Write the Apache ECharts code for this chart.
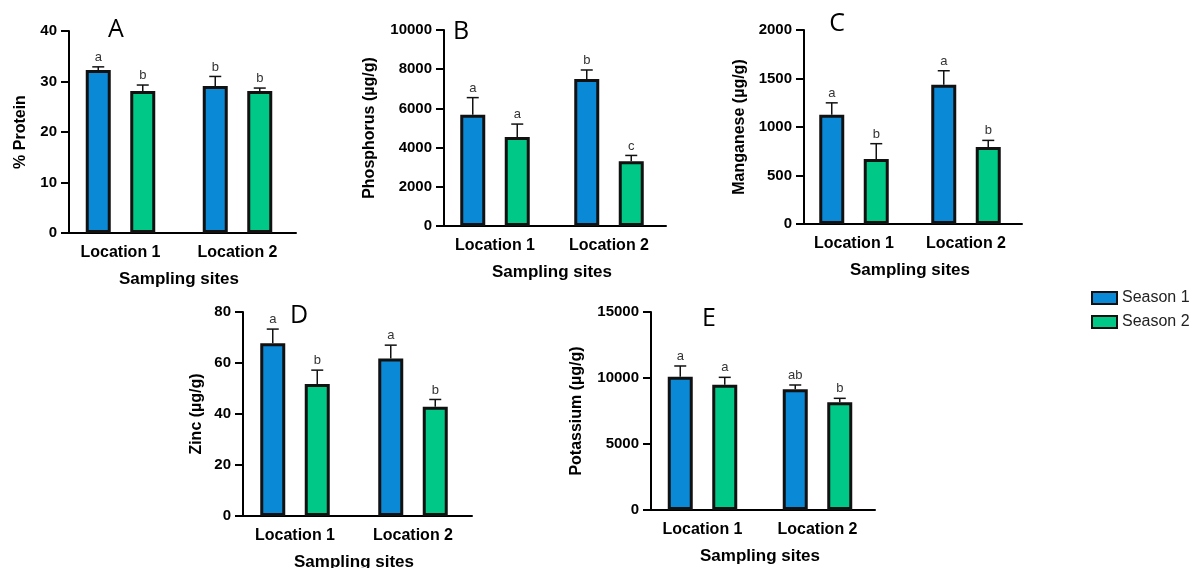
<!DOCTYPE html>
<html>
<head>
<meta charset="utf-8">
<script src="https://cdn.jsdelivr.net/npm/echarts@6/dist/echarts.min.js"></script>
<style>
  html, body { margin: 0; padding: 0; background: #fff; }
  #chart { width: 1199px; height: 568px; }
</style>
</head>
<body>
<div id="chart"></div>
<script>
// Sampling sites and seasons
const sites = ['Location 1', 'Location 2'];
const seasons = ['Season 1', 'Season 2'];

// A - % Protein
const proteinS1 = [32.3, 29.1];
const proteinS2 = [28.1, 28.1];
const proteinErrS1 = [0.6, 1.9];
const proteinErrS2 = [1.2, 0.6];
const proteinLetS1 = ['a', 'b'];
const proteinLetS2 = ['b', 'b'];

// B - Phosphorus
const phosS1 = [5680, 7500];
const phosS2 = [4540, 3300];
const phosErrS1 = [870, 460];
const phosErrS2 = [660, 300];
const phosLetS1 = ['a', 'b'];
const phosLetS2 = ['a', 'c'];

// C - Manganese
const mnS1 = [1127, 1436];
const mnS2 = [670, 794];
const mnErrS1 = [122, 144];
const mnErrS2 = [158, 68];
const mnLetS1 = ['a', 'a'];
const mnLetS2 = ['b', 'b'];

// D - Zinc
const znS1 = [67.7, 61.8];
const znS2 = [51.8, 42.8];
const znErrS1 = [5.6, 5.2];
const znErrS2 = [5.4, 2.9];
const znLetS1 = ['a', 'a'];
const znLetS2 = ['b', 'b'];

// E - Potassium
const kS1 = [10100, 9140];
const kS2 = [9490, 8160];
const kErrS1 = [810, 330];
const kErrS2 = [560, 300];
const kLetS1 = ['a', 'ab'];
const kLetS2 = ['a', 'b'];

const BLUE = '#0A89D7';
const GREEN = '#00C886';
const FONT = '"Liberation Sans", Arial, sans-serif';
const BAR_W = 25;
const BAR_GAP = 0.78;
const SHIFT = BAR_W * (1 + BAR_GAP) / 2;

// panel layout: grid box + y axis pos (x0) + y axis settings
const panels = [
  { tag: 'A', name: '% Protein', s1: proteinS1, s2: proteinS2, e1: proteinErrS1, e2: proteinErrS2, l1: proteinLetS1, l2: proteinLetS2,
    max: 40, interval: 10, x0: 69, left: 62, width: 234, top: 31, height: 202, nameGap: 40, tagPos: [116, 30] },
  { tag: 'B', name: 'Phosphorus (µg/g)', s1: phosS1, s2: phosS2, e1: phosErrS1, e2: phosErrS2, l1: phosLetS1, l2: phosLetS2,
    max: 10000, interval: 2000, x0: 444, left: 438, width: 228, top: 30, height: 196, nameGap: 66, tagPos: [461, 32] },
  { tag: 'C', name: 'Manganese (µg/g)', s1: mnS1, s2: mnS2, e1: mnErrS1, e2: mnErrS2, l1: mnLetS1, l2: mnLetS2,
    max: 2000, interval: 500, x0: 804, left: 798, width: 224, top: 30, height: 194, nameGap: 56, tagPos: [837, 24] },
  { tag: 'D', name: 'Zinc (µg/g)', s1: znS1, s2: znS2, e1: znErrS1, e2: znErrS2, l1: znLetS1, l2: znLetS2,
    max: 80, interval: 20, x0: 243, left: 236, width: 236, top: 312, height: 204, nameGap: 38, tagPos: [299, 316] },
  { tag: 'E', name: 'Potassium (µg/g)', s1: kS1, s2: kS2, e1: kErrS1, e2: kErrS2, l1: kLetS1, l2: kLetS2,
    max: 15000, interval: 5000, x0: 651, left: 645, width: 230, top: 312, height: 198, nameGap: 66, tagPos: [709, 319] }
];

function errorBarRender(shift, letters) {
  return function (params, api) {
    const cat = api.value(0);
    const mean = api.value(1);
    const err = api.value(2);
    const letter = letters[params.dataIndex];
    const base = api.coord([cat, mean]);
    const tip = api.coord([cat, mean + err]);
    const x = base[0] + shift;
    return {
      type: 'group',
      children: [
        { type: 'line', shape: { x1: x, y1: base[1], x2: x, y2: tip[1] }, style: { stroke: '#111', lineWidth: 1.5 } },
        { type: 'line', shape: { x1: x - 6, y1: tip[1], x2: x + 6, y2: tip[1] }, style: { stroke: '#111', lineWidth: 1.5 } },
        { type: 'text', x: x, y: tip[1] - 3, style: { text: letter, fill: '#333', font: '13px ' + FONT, align: 'center', verticalAlign: 'bottom' } }
      ]
    };
  };
}

const grid = [], xAxis = [], yAxis = [], series = [], graphic = [];

panels.forEach(function (p, i) {
  grid.push({ left: p.left, top: p.top, width: p.width, height: p.height, containLabel: false, outerBoundsMode: 'none' });
  xAxis.push({
    type: 'category', gridIndex: i, data: sites,
    name: 'Sampling sites', nameLocation: 'middle', nameGap: 38,
    nameTextStyle: { color: '#000', fontWeight: 'bold', fontSize: 17, fontFamily: FONT },
    axisLine: { lineStyle: { color: '#000', width: 2 } },
    axisTick: { alignWithLabel: true, length: 7, lineStyle: { color: '#000', width: 2 } },
    axisLabel: { color: '#000', fontWeight: 'bold', fontSize: 16, fontFamily: FONT, margin: 12 },
    splitLine: { show: false }
  });
  yAxis.push({
    type: 'value', gridIndex: i, min: 0, max: p.max, interval: p.interval,
    offset: p.left - p.x0,
    name: p.name, nameLocation: 'middle', nameGap: p.nameGap,
    nameTextStyle: { color: '#000', fontWeight: 'bold', fontSize: 16, fontFamily: FONT },
    axisLine: { show: true, lineStyle: { color: '#000', width: 2 } },
    axisTick: { show: true, length: 8, lineStyle: { color: '#000', width: 2 } },
    axisLabel: { color: '#000', fontWeight: 'bold', fontSize: 15, fontFamily: FONT, margin: 12,
      formatter: function (v) { return String(v); } },
    splitLine: { show: false }
  });

  const colors = [BLUE, GREEN];
  const means = [p.s1, p.s2];
  const errs = [p.e1, p.e2];
  const lets = [p.l1, p.l2];
  seasons.forEach(function (s, k) {
    series.push({
      name: s, type: 'bar', xAxisIndex: i, yAxisIndex: i,
      data: means[k], barWidth: BAR_W, barGap: (BAR_GAP * 100) + '%',
      itemStyle: { color: colors[k], borderColor: '#111', borderWidth: 3 },
      silent: true
    });
  });
  seasons.forEach(function (s, k) {
    series.push({
      type: 'custom', xAxisIndex: i, yAxisIndex: i, z: 3, silent: true,
      renderItem: errorBarRender(k === 0 ? -SHIFT : SHIFT, lets[k]),
      data: sites.map(function (_, j) { return [j, means[k][j], errs[k][j]]; })
    });
  });

  graphic.push({
    type: 'text', x: p.tagPos[0], y: p.tagPos[1],
    style: { text: p.tag, font: '25px "Open Sans", sans-serif', fill: '#000', align: 'center', verticalAlign: 'middle' }
  });
});

const chart = echarts.init(document.getElementById('chart'));
chart.setOption({
  animation: false,
  backgroundColor: '#fff',
  legend: {
    data: seasons, orient: 'vertical', left: 1086, top: 285, icon: 'rect',
    itemWidth: 25, itemHeight: 12, itemGap: 8,
    textStyle: { color: '#222', fontSize: 16, fontFamily: FONT }
  },
  grid: grid, xAxis: xAxis, yAxis: yAxis, series: series, graphic: graphic
});
</script>
</body>
</html>
